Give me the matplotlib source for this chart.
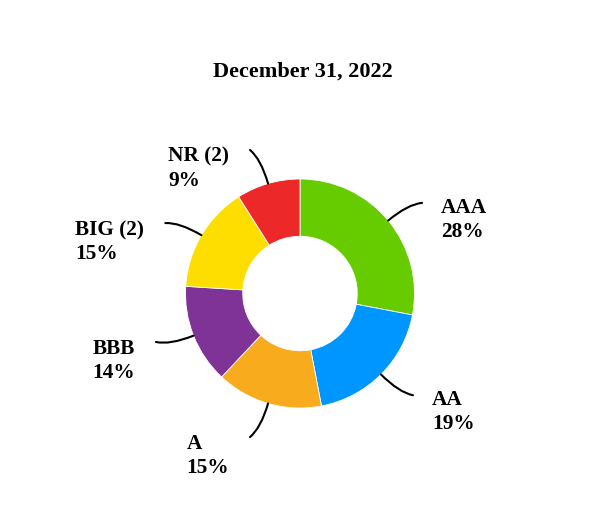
import numpy as np
import matplotlib
matplotlib.use("Agg")
import matplotlib.pyplot as plt
from matplotlib.path import Path
from matplotlib.patches import PathPatch

categories = ["AAA", "AA", "A", "BBB", "BIG (2)", "NR (2)"]
values = [28, 19, 15, 14, 15, 9]
colors = ["#66CC00", "#0096FF", "#F9AB1E", "#7F3396", "#FEDE00", "#EC2828"]
title = "December 31, 2022"

W, H = 600, 532
fig = plt.figure(figsize=(W / 100, H / 100), dpi=100)
ax = fig.add_axes([0, 0, 1, 1])

cx, cy = 300, H - 293.5
R = 114.5
wedges, _ = ax.pie(values, colors=colors, startangle=90, counterclock=False,
                   radius=R, center=(cx, cy), frame=True,
                   wedgeprops=dict(width=R * 0.5, edgecolor="white", linewidth=0.6))
ax.set_xlim(0, W)
ax.set_ylim(0, H)
ax.set_aspect("equal")
ax.axis("off")

font = dict(family=["Liberation Serif", "DejaVu Serif"], fontweight="bold")

for w, cat, v in zip(wedges, categories, values):
    mid = np.deg2rad((w.theta1 + w.theta2) / 2)
    right = np.cos(mid) > 0
    horiz = 0.0 if right else np.pi
    shift = np.deg2rad(3)
    d = (horiz - mid + np.pi) % (2 * np.pi) - np.pi
    end_a = mid + np.sign(d) * shift
    p0 = (cx + R * np.cos(mid), cy + R * np.sin(mid))
    pc = (cx + 140 * np.cos(mid), cy + 140 * np.sin(mid))
    p2 = (cx + 152 * np.cos(end_a), cy + 152 * np.sin(end_a))
    path = Path([p0, pc, p2], [Path.MOVETO, Path.CURVE3, Path.CURVE3])
    ax.add_patch(PathPatch(path, fill=False, color="black", lw=1.5, capstyle="round"))
    if right:
        ax.text(p2[0] + 19, p2[1] + 5, f"{cat}\n{v}%", ha="left", va="top",
                multialignment="left", linespacing=1.28, fontsize=15.3, **font)
    else:
        ax.text(p2[0] - 21, p2[1] + 3, f"{cat}\n{v}%", ha="right", va="top",
                multialignment="left", linespacing=1.28, fontsize=15.3, **font)

ax.text(303, H - 71.5, title, ha="center", va="center", fontsize=16, **font)

fig.savefig("out.png", dpi=100, facecolor="white")
